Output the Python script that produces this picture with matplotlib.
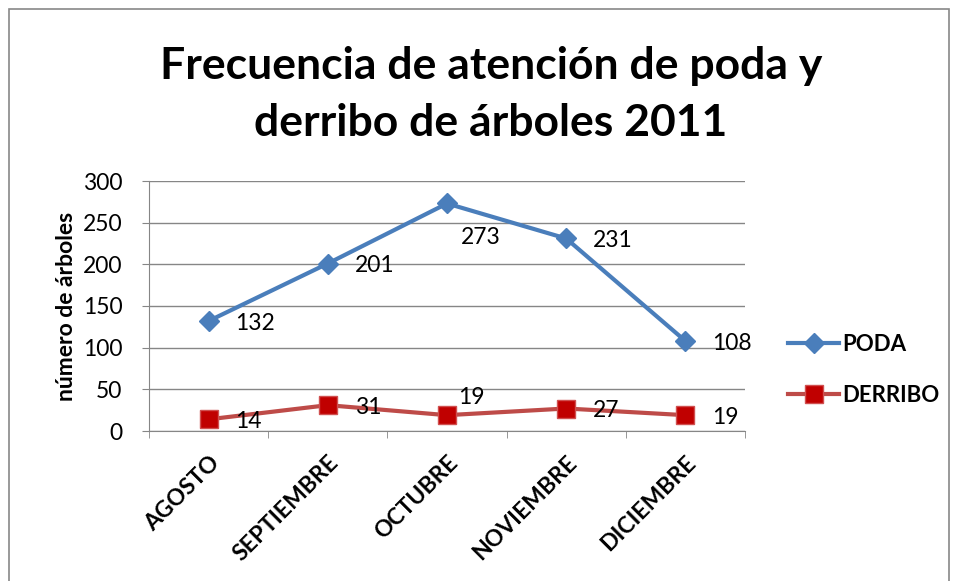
import matplotlib.pyplot as plt
import matplotlib.patches as mpatches
import numpy as np

plt.rcParams['font.family'] = ['Lato', 'DejaVu Sans']

meses = ["AGOSTO", "SEPTIEMBRE", "OCTUBRE", "NOVIEMBRE", "DICIEMBRE"]
poda = [132, 201, 273, 231, 108]
derribo = [14, 31, 19, 27, 19]

x = np.arange(len(meses))

fig = plt.figure(figsize=(9.58, 5.81), dpi=100)
ax = fig.add_axes([149 / 958, 1 - 431 / 581, 596 / 958, 250 / 581])

# borde exterior del grafico
fig.patches.append(mpatches.Rectangle((9 / 958, -0.05), 940 / 958, 1.05 - 9 / 581,
                                      transform=fig.transFigure, fill=False,
                                      edgecolor="#888888", linewidth=1.2))

l1, = ax.plot(x, poda, color="#4A7EBB", lw=3, marker="D", ms=10.5,
              mfc="#4A7EBB", mec="#4A7EBB", label="PODA", zorder=3)
l2, = ax.plot(x, derribo, color="#BE4B48", lw=3, marker="s", ms=12.5,
              mfc="#C00000", mec="#D05050", label="DERRIBO", zorder=3)

# etiquetas de datos
for i, v in enumerate(poda):
    dy = -34 if i == 2 else -2
    dx = 14 if i == 2 else 27
    ax.annotate(str(v), (x[i], v), xytext=(dx, dy), textcoords="offset pixels",
                ha="left", va="center", fontsize=16.5)
for i, v in enumerate(derribo):
    dy = 18 if i == 2 else -2
    dx = 11 if i == 2 else 27
    ax.annotate(str(v), (x[i], v), xytext=(dx, dy), textcoords="offset pixels",
                ha="left", va="center", fontsize=16.5)

ax.set_xlim(-0.5, 4.5)
ax.set_ylim(0, 300)
ax.set_yticks(range(0, 301, 50))
ax.set_xticks(x)
ax.set_xticklabels(meses, rotation=45, ha="right", rotation_mode="anchor",
                   fontsize=16.5, fontweight="bold")
ax.tick_params(axis="y", labelsize=16.5, length=5, color="#868686", pad=14)
ax.tick_params(axis="x", length=0, pad=15)
ax.set_xticks(np.arange(-0.5, 5, 1), minor=True)
ax.tick_params(axis="x", which="minor", length=5, color="#868686")

ax.grid(axis="y", color="#868686", lw=1)
ax.set_axisbelow(True)
for s in ["top", "right"]:
    ax.spines[s].set_visible(False)
for s in ["left", "bottom"]:
    ax.spines[s].set_color("#868686")

ax.set_ylabel("número de árboles", fontsize=16.5, fontweight="bold", labelpad=4)

fig.text(491 / 958, 1 - 66 / 581, "Frecuencia de atención de poda y",
         ha="center", va="center", fontsize=32, fontweight="bold")
fig.text(491 / 958, 1 - 123 / 581, "derribo de árboles 2011",
         ha="center", va="center", fontsize=32, fontweight="bold")

fig.legend(handles=[l1, l2], loc="center left",
           bbox_to_anchor=(768 / 958, 1 - 370 / 581), frameon=False,
           prop={"size": 16, "weight": "bold"}, handlelength=2.3,
           handletextpad=0.15, labelspacing=1.35)

fig.savefig("out.png", dpi=100)
